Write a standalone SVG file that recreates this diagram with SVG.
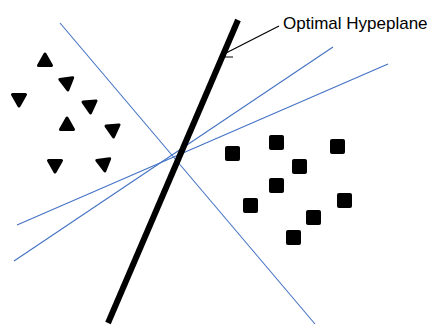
<svg xmlns="http://www.w3.org/2000/svg" width="431" height="325" viewBox="0 0 431 325">
<style>
.blue{stroke:#4472C4;stroke-width:1.1;fill:none}
.tri{fill:#000;stroke:#000;stroke-width:3;stroke-linejoin:round}
.sq{fill:#000}
.lbl{font-family:"Liberation Sans",Arial,sans-serif;font-size:17px;fill:#000}
</style>
<defs>
<polygon id="up" class="tri" points="0,-6 6.5,5.5 -6.5,5.5"/>
<polygon id="down" class="tri" points="0,6 6.5,-5.5 -6.5,-5.5"/>
<rect id="sq" class="sq" x="-7.5" y="-7.5" width="15" height="15" rx="2"/>
</defs>
<rect width="431" height="325" fill="#fff"/>
<g id="connectors">
<line class="blue" x1="60" y1="23" x2="315" y2="324"/>
<line class="blue" x1="17" y1="225" x2="388" y2="64"/>
<line class="blue" x1="14" y1="261" x2="333" y2="47"/>
<line x1="238" y1="20" x2="108" y2="323" stroke="#000" stroke-width="6"/>
<line x1="279" y1="26" x2="226" y2="53" stroke="#000" stroke-width="1.2"/>
<line x1="224" y1="57" x2="233" y2="57" stroke="#000" stroke-width="1"/>
</g>
<g id="label"><text class="lbl" x="283" y="29">Optimal Hypeplane</text></g>
<g id="triangles">
<use href="#up" x="45" y="60"/>
<use href="#down" x="67" y="84" transform="rotate(-8 67 84)"/>
<use href="#down" x="19" y="100"/>
<use href="#down" x="90" y="107" transform="rotate(-5 90 107)"/>
<use href="#up" x="67" y="124"/>
<use href="#down" x="113" y="131" transform="rotate(-5 113 131)"/>
<use href="#down" x="55" y="166"/>
<use href="#down" x="104" y="165" transform="rotate(-8 104 165)"/>
</g>
<g id="squares">
<use href="#sq" x="232.5" y="153.5"/>
<use href="#sq" x="276.5" y="142.5"/>
<use href="#sq" x="337.5" y="146.5"/>
<use href="#sq" x="299.5" y="166.5"/>
<use href="#sq" x="276.5" y="185.5"/>
<use href="#sq" x="250.5" y="205.5"/>
<use href="#sq" x="344.5" y="200.5"/>
<use href="#sq" x="313.5" y="217.5"/>
<use href="#sq" x="293.5" y="237.5"/>
</g>
</svg>
